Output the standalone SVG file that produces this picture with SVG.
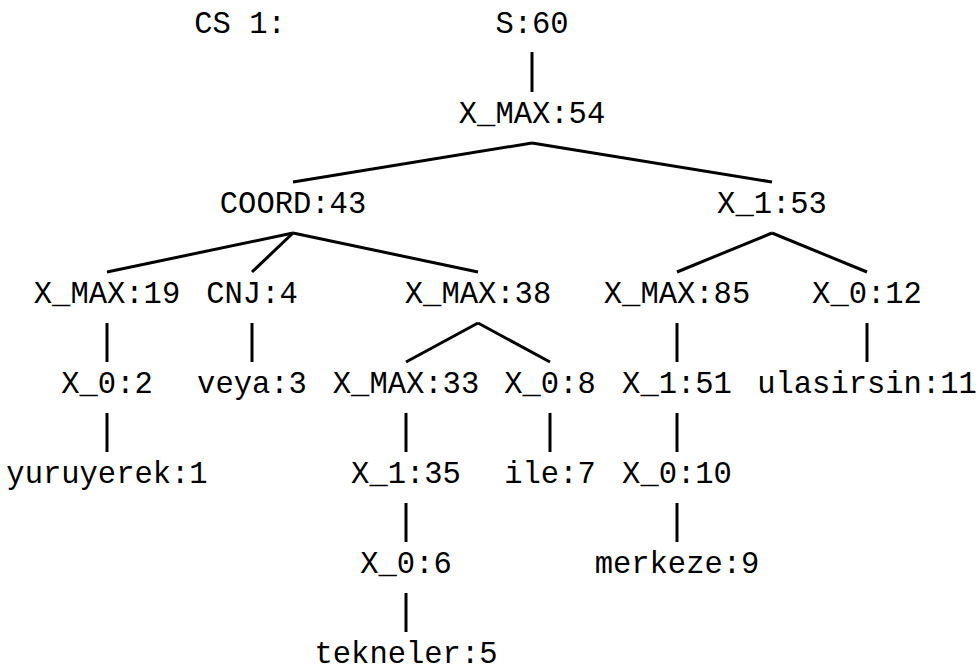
<svg xmlns="http://www.w3.org/2000/svg" width="977" height="672" viewBox="0 0 977 672">
<style>
text{font-family:"Liberation Mono","DejaVu Sans Mono",monospace;font-size:30.5px;fill:#000;text-anchor:middle}
.e line{stroke:#000;stroke-width:3;stroke-linecap:butt}
</style>
<rect width="977" height="672" fill="#fff"/>
<g id="label"><text x="240" y="33">CS 1:</text></g>
<g class="e" id="connectors">
<line x1="532" y1="52" x2="532" y2="92"/>
<line x1="532" y1="143" x2="293" y2="182"/>
<line x1="532" y1="143" x2="772" y2="182"/>
<line x1="293" y1="233" x2="107" y2="272"/>
<line x1="293" y1="233" x2="252" y2="272"/>
<line x1="293" y1="233" x2="478" y2="272"/>
<line x1="772" y1="233" x2="677" y2="272"/>
<line x1="772" y1="233" x2="867" y2="272"/>
<line x1="107" y1="323" x2="107" y2="362"/>
<line x1="252" y1="323" x2="252" y2="362"/>
<line x1="478" y1="323" x2="406" y2="362"/>
<line x1="478" y1="323" x2="550" y2="362"/>
<line x1="677" y1="323" x2="677" y2="362"/>
<line x1="867" y1="323" x2="867" y2="362"/>
<line x1="107" y1="413" x2="107" y2="452"/>
<line x1="406" y1="413" x2="406" y2="452"/>
<line x1="550" y1="413" x2="550" y2="452"/>
<line x1="677" y1="413" x2="677" y2="452"/>
<line x1="406" y1="503" x2="406" y2="542"/>
<line x1="677" y1="503" x2="677" y2="542"/>
<line x1="406" y1="593" x2="406" y2="632"/>
</g>
<g id="n_s60"><text x="532" y="33">S:60</text></g>
<g id="n_xmax54"><text x="532" y="123">X_MAX:54</text></g>
<g id="n_coord43"><text x="293" y="213">COORD:43</text></g>
<g id="n_x1_53"><text x="772" y="213">X_1:53</text></g>
<g id="n_xmax19"><text x="107" y="303">X_MAX:19</text></g>
<g id="n_cnj4"><text x="252" y="303">CNJ:4</text></g>
<g id="n_xmax38"><text x="478" y="303">X_MAX:38</text></g>
<g id="n_xmax85"><text x="677" y="303">X_MAX:85</text></g>
<g id="n_x0_12"><text x="867" y="303">X_0:12</text></g>
<g id="n_x0_2"><text x="107" y="393">X_0:2</text></g>
<g id="n_veya3"><text x="252" y="393">veya:3</text></g>
<g id="n_xmax33"><text x="406" y="393">X_MAX:33</text></g>
<g id="n_x0_8"><text x="550" y="393">X_0:8</text></g>
<g id="n_x1_51"><text x="677" y="393">X_1:51</text></g>
<g id="n_ulasirsin11"><text x="867" y="393">ulasirsin:11</text></g>
<g id="n_yuruyerek1"><text x="107" y="483">yuruyerek:1</text></g>
<g id="n_x1_35"><text x="406" y="483">X_1:35</text></g>
<g id="n_ile7"><text x="550" y="483">ile:7</text></g>
<g id="n_x0_10"><text x="677" y="483">X_0:10</text></g>
<g id="n_x0_6"><text x="406" y="573">X_0:6</text></g>
<g id="n_merkeze9"><text x="677" y="573">merkeze:9</text></g>
<g id="n_tekneler5"><text x="406" y="663">tekneler:5</text></g>
</svg>
